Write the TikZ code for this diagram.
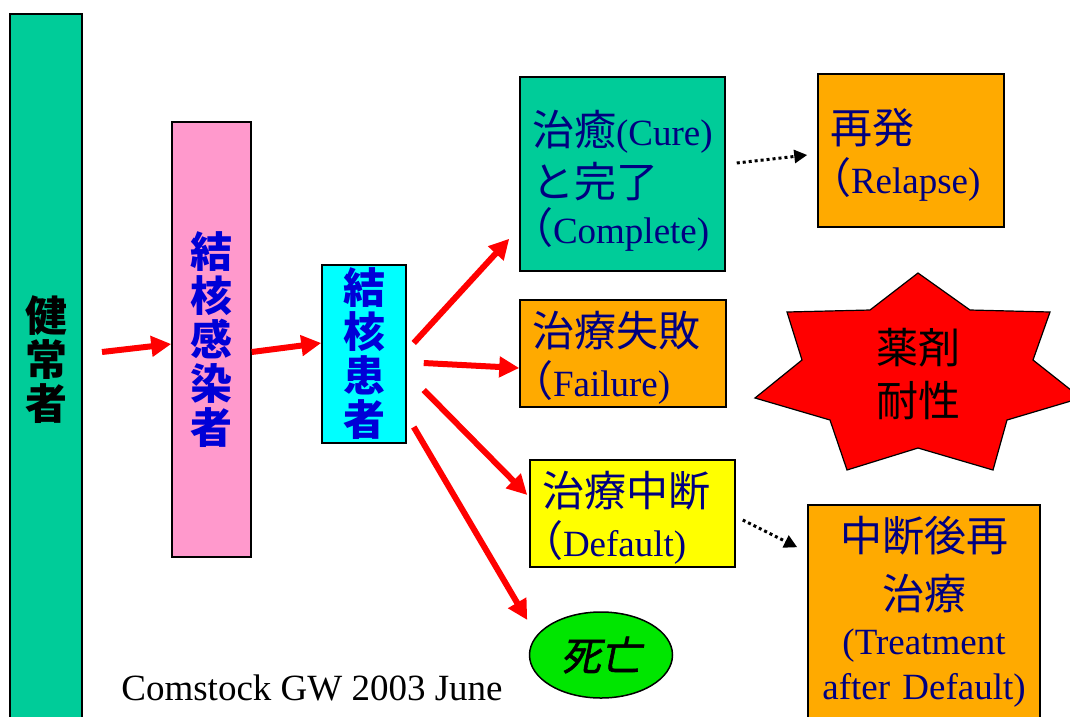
\documentclass[tikz,border=0pt]{standalone}
\usepackage{fontspec}
\setmainfont{Liberation Serif}
\newfontfamily\cjk{Noto Sans CJK JP}
\newfontfamily\cjkh[RawFeature=+halt]{Noto Sans CJK JP}
\newfontfamily\cjkit[FakeSlant=0.2,FakeBold=1.5]{Noto Sans CJK JP}
\usetikzlibrary{arrows.meta,shapes.geometric}
\definecolor{sea}{RGB}{0,204,153}
\definecolor{pinkb}{RGB}{255,153,204}
\definecolor{cyanb}{RGB}{0,255,255}
\definecolor{orangeb}{RGB}{255,170,0}
\definecolor{yellowb}{RGB}{255,255,0}
\definecolor{greenb}{RGB}{0,230,0}
\definecolor{redb}{RGB}{255,0,0}
\definecolor{navy}{RGB}{0,0,128}
\definecolor{bluet}{RGB}{0,0,215}
\newcommand\J[1]{{\cjk\fontsize{42}{50}\selectfont #1}}
\newcommand\lp{{\cjkh\fontsize{42}{50}\selectfont （}}
\tikzset{
  box/.style={draw=black, line width=1.5pt, inner sep=0pt, text=navy,
    font=\fontsize{37}{50}\selectfont},
  lbox/.style={box, align=left, text width=#1},
  vtext/.style={align=center, inner sep=0pt, font=\cjk\bfseries\fontsize{42}{44}\selectfont},
  redarrow/.style={draw=redb, line width=6pt, -{Triangle[length=20pt,width=20pt]}},
  dotarrow/.style={draw=black, line width=3pt, dash pattern=on 3pt off 3pt,
    -{Triangle[length=13pt,width=13pt]}},
}
\begin{document}
\begin{tikzpicture}[x=1pt,y=-1pt]
\useasboundingbox (0,0) rectangle (1070,716);
% left column boxes
\node[box, fill=sea, minimum width=72pt, minimum height=726pt] (healthy) at (46,377) {};
\node[vtext, text=black] (healthyt) at (46,360) {健\\常\\者};
\node[box, fill=pinkb, minimum width=79pt, minimum height=435pt, vtext, text=bluet] (inf) at (211.5,339.5) {結\\核\\感\\染\\者};
\node[box, fill=cyanb, minimum width=84pt, minimum height=178pt, vtext, text=bluet] (pat) at (364,354) {結\\核\\患\\者};
% outcome boxes
\node[lbox=181pt, fill=sea, minimum width=205pt, minimum height=194pt] (cure) at (622.5,174)
  {\rule{0pt}{48pt}\J{治癒}(Cure)\\[2pt]\J{と完了}\\[-4pt]\lp Complete)};
\node[lbox=162pt, fill=orangeb, minimum width=186pt, minimum height=153pt] (relapse) at (911,150.5)
  {\rule{0pt}{44pt}\J{再発}\\\lp Relapse)};
\node[lbox=182pt, fill=orangeb, minimum width=206pt, minimum height=107pt] (fail) at (623,353.5)
  {\rule{0pt}{44pt}\J{治療失敗}\\\lp Failure)};
\node[lbox=181pt, fill=yellowb, minimum width=205pt, minimum height=107pt] (def) at (632.5,513.5)
  {\rule{0pt}{44pt}\J{治療中断}\\\lp Default)};
\node[box, fill=orangeb, align=center, text width=220pt, minimum width=232pt, minimum height=214pt,
  font=\fontsize{37}{45}\selectfont] (tad) at (924,612)
  {\J{中断後再}\\[13pt]\J{治療}\\(Treatment\\after Default)};
% star
\filldraw[fill=redb, draw=black, line width=1.2pt]
  (918,273) -- (970,310) -- (1050,312) -- (1033,360) -- (1081,398) -- (1007,420)
  -- (993,470) -- (918,448) -- (847,470) -- (830,420) -- (755,398) -- (802,360)
  -- (787,312) -- (870,310) -- cycle;
\node[align=center, inner sep=0pt, text=black, font=\cjk\fontsize{42}{53}\selectfont] (drug) at (918,374) {薬剤\\耐性};
% death
\node[ellipse, draw=black, line width=1.5pt, fill=greenb, minimum width=143pt, minimum height=86pt,
  inner sep=0pt, font=\cjkit\fontsize{40}{44}\selectfont] (death) at (601,655) {死亡};
% credit
\node[inner sep=0pt, font=\fontsize{37}{40}\selectfont] (credit) at (312,688) {Comstock GW 2003 June};
% arrows
\coordinate (c1) at (102,352);
\draw[redarrow] (c1) -- ([yshift=-4.5pt]inf.west);
\draw[redarrow] ([yshift=-12.5pt]inf.east) -- ([yshift=11pt]pat.west);
\draw[redarrow] ([shift={(7,-11)}]pat.east) -- ([shift={(-10,-33)}]cure.south west);
\draw[redarrow] ([shift={(17,9)}]pat.east) -- ([shift={(0,14.5)}]fail.west);
\draw[redarrow] ([shift={(17,36)}]pat.east) -- ([shift={(-2,-18.5)}]def.west);
\draw[redarrow] ([shift={(7,73)}]pat.east) -- ([shift={(-1.5,-35)}]death.west);
\draw[dotarrow] ([shift={(11,-11)}]cure.east) -- ([shift={(-10,4.5)}]relapse.west);
\draw[dotarrow] ([shift={(7,6.5)}]def.east) -- ([shift={(-10,43)}]tad.north west);
\end{tikzpicture}
\end{document}
